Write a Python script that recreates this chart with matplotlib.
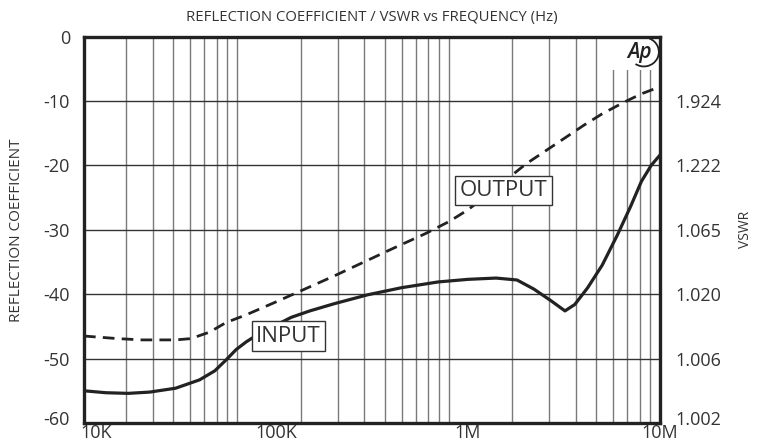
import numpy as np
import matplotlib
matplotlib.use("Agg")
import matplotlib.pyplot as plt
from matplotlib.patches import Arc, Rectangle
from matplotlib.ticker import NullFormatter
from matplotlib.transforms import ScaledTranslation

plt.rcParams['font.family'] = ['Open Sans', 'DejaVu Sans']

# input reflection coefficient (dB)
in_freq = [10e3, 13e3, 17e3, 22e3, 30e3, 40e3, 48e3, 55e3, 62e3, 70e3, 80e3,
           100e3, 120e3, 150e3, 200e3, 300e3, 450e3, 700e3, 1e6, 1.4e6, 1.8e6,
           2.2e6, 2.7e6, 3.2e6, 3.6e6, 4.2e6, 5e6, 6e6, 7e6, 8e6, 9e6, 10e6]
in_db = [-55.0, -55.3, -55.4, -55.2, -54.6, -53.3, -51.9, -50.2, -48.6, -47.4, -46.3,
         -44.8, -43.6, -42.6, -41.5, -40.1, -39.0, -38.1, -37.7, -37.5, -37.8,
         -39.2, -41.0, -42.6, -41.6, -39.0, -35.5, -30.8, -26.5, -22.5, -20.0, -18.4]

# output reflection coefficient (dB)
out_freq = [10e3, 15e3, 20e3, 30e3, 36e3, 45e3, 55e3, 70e3, 100e3, 200e3, 400e3,
            600e3, 800e3, 1e6, 1.5e6, 2e6, 3e6, 4e6, 5e6, 6.5e6, 8e6, 10e6]
out_db = [-46.5, -46.9, -47.1, -47.1, -46.9, -45.9, -44.4, -43.2, -41.2, -37.2, -33.0,
          -30.6, -28.7, -26.9, -22.8, -19.8, -16.3, -13.8, -12.0, -10.2, -8.9, -7.8]

x_ticks = [1e4, 1e5, 1e6, 1e7]
x_labels = ['10K', '100K', '1M', '10M']
y_ticks = [0, -10, -20, -30, -40, -50, -60]
vswr_ticks = [-10, -20, -30, -40, -50, -60]
vswr_labels = ['1.924', '1.222', '1.065', '1.020', '1.006', '1.002']

# the printed grid does not line up with the labels: it is a log grid
# running from about 19K to 10M
grid_lo, grid_hi = 18.9e3, 1e7

fig = plt.figure(figsize=(7.65, 4.45), dpi=100)
rect = [84/765, 1-423/445, 576/765, 386.5/445]

gax = fig.add_axes(rect, zorder=0)
gax.set_xscale('log')
gax.set_xlim(grid_lo, grid_hi)
gax.set_ylim(-60, 0)
gax.axis('off')
grid_f = [k*10**d for d in (4, 5, 6) for k in range(1, 10) if k*10**d >= 3e4]
for f in grid_f:
    gax.axvline(f, color='#7a7a7a', lw=1.0)

ax = fig.add_axes(rect, zorder=1)
ax.set_facecolor('none')
ax.set_xscale('log')
ax.set_xlim(1e4, 1e7)
ax.set_ylim(-60, 0)

for v in y_ticks[1:-1]:
    ax.axhline(v, color='#333333', lw=1.0, zorder=1)

# logo area
ax.add_patch(Rectangle((0.904, 0.913), 0.1, 0.09, transform=ax.transAxes,
                       facecolor='white', edgecolor='none', zorder=2))
ax.text(0.964, 0.958, 'Ap', transform=ax.transAxes, fontsize=15, fontstyle='italic',
        fontweight='semibold', ha='center', va='center', zorder=3, color='#222222')
ax.add_patch(Arc((0.972, 0.960), 0.052, 0.075, theta1=-115, theta2=75,
                 transform=ax.transAxes, color='#222222', lw=1.3, zorder=3))

ax.plot(in_freq, in_db, color='#222222', lw=2.3, zorder=4)
ax.plot(out_freq, out_db, color='#222222', lw=2.0, ls=(0, (4.2, 2.6)), zorder=4)

box = dict(boxstyle='square,pad=0.2', facecolor='white', edgecolor='#333333', lw=1.0)
ax.text(1.53e6, -23.9, 'OUTPUT', fontsize=16, ha='center', va='center',
        bbox=box, zorder=5, color='#333333')
ax.text(1.16e5, -46.5, 'INPUT', fontsize=16, ha='center', va='center',
        bbox=box, zorder=5, color='#333333')

ax.set_xticks(x_ticks)
ax.set_xticklabels(x_labels)
ax.xaxis.set_minor_formatter(NullFormatter())
ax.set_yticks(y_ticks)
ax.set_yticklabels([str(v) for v in y_ticks])
ax.tick_params(axis='both', which='both', length=0, labelsize=13, colors='#333333')
ax.tick_params(axis='x', pad=1)
ax.tick_params(axis='y', pad=10)

for s in ax.spines.values():
    s.set_linewidth(2.4)
    s.set_color('#222222')
    s.set_zorder(6)

ax2 = ax.twinx()
ax2.set_ylim(-60, 0)
ax2.set_yticks(vswr_ticks)
ax2.set_yticklabels(vswr_labels)
ax2.tick_params(axis='y', length=0, labelsize=13, colors='#333333', pad=11)
for s in ax2.spines.values():
    s.set_visible(False)

# small nudges of the end labels, as printed
first = ax.get_xticklabels()[0]
first.set_ha('left')
first.set_transform(first.get_transform() + ScaledTranslation(-0.04, 0, fig.dpi_scale_trans))
up = ScaledTranslation(0, 0.05, fig.dpi_scale_trans)
for lab in (ax.get_yticklabels()[-1], ax2.get_yticklabels()[-1]):
    lab.set_transform(lab.get_transform() + up)

ax.set_title('REFLECTION COEFFICIENT / VSWR vs FREQUENCY (Hz)', fontsize=10.7,
             color='#333333', pad=11)
ax.set_ylabel('REFLECTION COEFFICIENT', fontsize=11, color='#333333', labelpad=14)
ax2.set_ylabel('VSWR', fontsize=10, color='#333333', labelpad=12)

fig.savefig('out.png', dpi=100)
